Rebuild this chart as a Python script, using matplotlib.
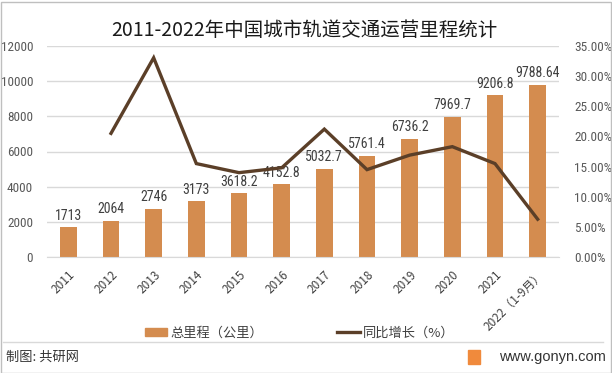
import numpy as np
import matplotlib
matplotlib.use("Agg")
import matplotlib.pyplot as plt
from matplotlib.ticker import FuncFormatter
from matplotlib.patches import Rectangle
from matplotlib.lines import Line2D
from matplotlib import font_manager

plt.rcParams['font.family'] = ['Noto Sans CJK SC', 'DejaVu Sans']
names = {f.name for f in font_manager.fontManager.ttflist}
num_font = ['Liberation Sans Narrow'] if 'Liberation Sans Narrow' in names else ['Roboto Condensed'] if 'Roboto Condensed' in names else ['Liberation Sans']

years = ["2011", "2012", "2013", "2014", "2015", "2016", "2017", "2018", "2019", "2020", "2021", "2022（1-9月）"]
mileage = [1713, 2064, 2746, 3173, 3618.2, 4152.8, 5032.7, 5761.4, 6736.2, 7969.7, 9206.8, 9788.64]
mileage_labels = ["1713", "2064", "2746", "3173", "3618.2", "4152.8", "5032.7", "5761.4", "6736.2", "7969.7", "9206.8", "9788.64"]
growth = [np.nan, 20.5, 33.0, 15.5, 14.0, 14.8, 21.2, 14.5, 16.9, 18.3, 15.5, 6.3]

bar_color = "#D48C4F"
line_color = "#5B3F28"
tick_color = "#595959"

fig = plt.figure(figsize=(6.12, 3.73), dpi=100)
ax = fig.add_axes([47/612, 1-257.3/373, (559-47)/612, (257.3-45.7)/373])
ax2 = ax.twinx()

x = np.arange(len(years))
ax.bar(x, mileage, width=0.39, color=bar_color, zorder=2)
for xi, v, lab in zip(x, mileage, mileage_labels):
    ax.text(xi, v + 250, lab, ha='center', va='bottom', fontsize=10, color="#404040", family=num_font)

ax.set_xlim(-0.5, len(years) - 0.5)
ax.set_ylim(0, 12000)
ax.set_yticks(np.arange(0, 12001, 2000))
ax.yaxis.grid(True, color="#D9D9D9", linewidth=1, zorder=0)
ax.set_axisbelow(True)
ax.tick_params(axis='y', length=0, labelsize=9.5, labelcolor=tick_color, pad=10)
for t in ax.get_yticklabels():
    t.set_family(num_font)
ax.set_xticks(x)
ax.set_xticklabels(years, rotation=45, ha='right', va='top', rotation_mode='anchor', fontsize=8.5, color="#404040")
ax.tick_params(axis='x', length=0, pad=8)
for s in ax.spines.values():
    s.set_visible(False)
ax.spines['bottom'].set_visible(True)
ax.spines['bottom'].set_color("#D9D9D9")

ax2.plot(x, growth, color=line_color, linewidth=2.4, zorder=3, solid_joinstyle='miter')
ax2.set_ylim(0, 35)
ax2.set_yticks(np.arange(0, 35.1, 5))
ax2.yaxis.set_major_formatter(FuncFormatter(lambda v, p: f"{v:.2f}%"))
ax2.tick_params(axis='y', length=0, labelsize=9.5, labelcolor=tick_color, pad=11)
for t in ax2.get_yticklabels():
    t.set_family(num_font)
for s in ax2.spines.values():
    s.set_visible(False)

fig.text(0.497, 1-30/373, "2011-2022年中国城市轨道交通运营里程统计", ha='center', va='center', fontsize=14, color="#1a1a1a")

# legend
handles = [Rectangle((0, 0), 1, 1, color=bar_color), Line2D([0], [0], color=line_color, linewidth=2.4)]
fig.legend(handles, ["总里程（公里）", "同比增长（%）"], loc='center', bbox_to_anchor=(0.49, 1-333/373),
           ncol=2, frameon=False, fontsize=9.5, handlelength=1.7, handleheight=0.6, handletextpad=0.25,
           columnspacing=5.6, labelcolor="#404040")

# footer
fig.add_artist(Line2D([0.005, 0.985], [1-342/373, 1-342/373], color="#D9D9D9", linewidth=1))
fig.text(6/612, 1-357/373, "制图: 共研网", ha='left', va='center', fontsize=9.5, color="#333333")
fig.text(606/612, 1-357/373, "www.gonyn.com", ha='right', va='center', fontsize=10.5, color="#333333", family=['Liberation Sans'])
fig.add_artist(Rectangle((468/612, 1-364/373), 12/612, 14/373, color="#F08A3C", transform=fig.transFigure))

# border
fig.add_artist(Rectangle((0.5/612, 0.5/373), 610/612, 371/373, fill=False, edgecolor="#BFBFBF", linewidth=1, transform=fig.transFigure))

fig.savefig("out.png", dpi=100)
